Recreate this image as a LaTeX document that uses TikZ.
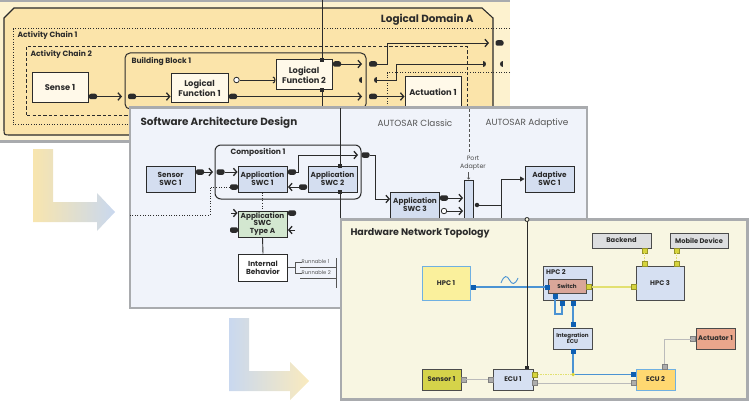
\documentclass[tikz,border=0pt]{standalone}
\usepackage{fontspec}
\setmainfont{Poppins}
\usetikzlibrary{arrows.meta}
\definecolor{ink}{HTML}{2B2B2B}
\definecolor{pgray}{HTML}{A9ABAE}
\definecolor{p1out}{HTML}{FDF2CF}
\definecolor{p1in}{HTML}{FBE4AA}
\definecolor{p1box}{HTML}{FFF9E9}
\definecolor{p2bg}{HTML}{F0F3FA}
\definecolor{swc}{HTML}{D4DEF0}
\definecolor{swcgreen}{HTML}{D3E7D0}
\definecolor{p3bg}{HTML}{F8F6E2}
\definecolor{hpcyel}{HTML}{FAF09C}
\definecolor{hwblue}{HTML}{D6E0F2}
\definecolor{lblue}{HTML}{6FB0E2}
\definecolor{salmon}{HTML}{D9A699}
\definecolor{actcol}{HTML}{E9A68C}
\definecolor{ecu2col}{HTML}{FFD871}
\definecolor{sensorcol}{HTML}{D5D34A}
\definecolor{backcol}{HTML}{DDDEE0}
\definecolor{portblue}{HTML}{0E5FB2}
\definecolor{lineblue}{HTML}{4B93D3}
\definecolor{portyel}{HTML}{D6D43C}
\definecolor{lineyel}{HTML}{E2E070}
\definecolor{portgray}{HTML}{ADADAD}
\definecolor{linegray}{HTML}{BBBBBB}
\definecolor{txtgray}{HTML}{555555}
\definecolor{Lyel}{HTML}{F8E5AE}
\definecolor{Lblue}{HTML}{C9D8EF}
\newcommand\ftitle{\fontsize{10.4}{12}\selectfont\bfseries}
\newcommand\fhwtitle{\fontsize{9.5}{11}\selectfont\bfseries}
\newcommand\fchain{\fontsize{7.6}{8.5}\selectfont\bfseries}
\newcommand\fbl{\fontsize{8.3}{10}\selectfont\bfseries}
\newcommand\fsw{\fontsize{7.3}{7.9}\selectfont\bfseries}
\newcommand\fhw{\fontsize{6.7}{7.5}\selectfont\bfseries}
\newcommand\fsmallhw{\fontsize{5.6}{6.2}\selectfont\bfseries}
\newcommand\fauto{\fontsize{8.9}{10}\selectfont}
\newcommand\fpa{\fontsize{6.3}{7.5}\selectfont}
\newcommand\ftiny{\fontsize{5.2}{6}\selectfont}
\tikzset{
  rcv/.tip={Straight Barb[length=3.2pt,width=7.5pt,line width=1.3pt]},
  sock/.tip={Arc Barb[length=2.6pt,width=7pt,line width=1.1pt]},
  conn/.style={draw=ink,line width=0.9pt},
  pport/.style={fill=ink,rounded corners=2pt,minimum width=8pt,minimum height=5.5pt,inner sep=0pt,outer sep=0pt},
  sq/.style={fill=ink,minimum size=3.8pt,inner sep=0pt,outer sep=0pt},
  opencirc/.style={circle,draw=ink,fill=white,line width=0.8pt,minimum size=5.5pt,inner sep=0pt},
  lbox/.style={draw=ink,fill=p1box,line width=1pt,align=center,inner sep=0pt,font=\fbl,text=ink},
  swbox/.style={draw=ink,fill=swc,line width=1pt,align=center,inner sep=0pt,font=\fsw,text=ink,minimum width=49pt,minimum height=26pt},
  hwbox/.style={draw=ink!85,fill=hwblue,line width=0.9pt,align=center,inner sep=0pt,font=\fhw,text=ink},
  bport/.style={fill=portblue,minimum size=5pt,inner sep=0pt,outer sep=0pt},
  yport/.style={fill=portyel,draw=portyel!70!black,line width=0.4pt,minimum size=5pt,inner sep=0pt,outer sep=0pt},
  gport/.style={fill=portgray,draw=gray,line width=0.4pt,minimum size=5pt,inner sep=0pt,outer sep=0pt},
  bline/.style={draw=lineblue,line width=1.2pt},
  yline/.style={draw=lineyel,line width=1.1pt},
  gline/.style={draw=linegray,line width=1pt},
  panel/.style={line width=2.5pt,draw=pgray},
  dotline/.style={draw=ink,line width=1pt,dash pattern=on 1pt off 1.6pt},
  dashline/.style={draw=ink,line width=1pt,dash pattern=on 3.2pt off 2.2pt},
  halfl/.pic={\fill[ink] (0,-3) -- (0,3) .. controls (-4,3) and (-4,-3) .. (0,-3) -- cycle;},
  halfr/.pic={\fill[ink] (0,-3) -- (0,3) .. controls (4,3) and (4,-3) .. (0,-3) -- cycle;},
}
\begin{document}
\begin{tikzpicture}[x=1pt,y=-1pt]
\useasboundingbox (0,0) rectangle (749,401);
% ================= Panel 1: Logical Domain A =================
\fill[p1out] (-2,0) rectangle (510,142);
\draw[panel] (-2,1.2) -- (510,1.2);
\draw[panel] (-2,141.5) -- (510,141.5);
\filldraw[fill=p1in,draw=ink,line width=1.1pt] (4,18) -- (14,8) -- (482,8) -- (493,18) -- (493,129) .. controls (493,135) .. (487,135) -- (10,135) .. controls (4,135) .. (4,129) -- cycle;
\node[anchor=east,font=\ftitle,text=ink] (domlbl) at (477,19.5) {Logical Domain A};
\draw[dotline] (510,29) -- (13,29) -- (13,125) -- (510,125);
\node[anchor=west,font=\fchain,text=ink] (ac1) at (14,35) {Activity Chain 1};
\draw[dashline] (26,47) rectangle (467,116);
\node[anchor=west,font=\fchain,text=ink] (ac2) at (27,54) {Activity Chain 2};
\draw[dotline] (510,73) -- (387,73) -- (387,142);
\draw[draw=ink,line width=1pt,rounded corners=5pt] (125,53) rectangle (366,109);
\node[anchor=west,font=\fchain,text=ink] (bb1) at (128,62) {Building Block 1};
\node[lbox,minimum width=56pt,minimum height=30pt] (sense) at (60,88) {Sense 1};
\node[lbox,minimum width=57pt,minimum height=29pt] (lf1) at (199.5,88.5) {Logical\\Function 1};
\node[lbox,minimum width=56pt,minimum height=30pt] (lf2) at (304,75) {Logical\\Function 2};
\node[lbox,minimum width=56pt,minimum height=30pt] (act) at (433,92) {Actuation 1};
% ports
\node[pport] (sp) at (93,96.5) {};
\coordinate (bbin) at (122,96.5);
\draw[conn,-{rcv}] (sp) -- (bbin);
\node[pport] (bbp1) at (132,96.5) {};
\coordinate (lf1in) at (170.5,96.5);
\draw[conn,-{rcv}] (bbp1) -- (lf1in);
\node[opencirc] (lf1c) at (236.5,80) {};
\coordinate (lf2in) at (275.5,80);
\draw[conn,-{sock}] (lf1c) -- (lf2in);
\node[pport] (lf1p) at (233,96.5) {};
\coordinate (bbout3) at (362,96.5);
\draw[conn,-{rcv}] (lf1p) -- (bbout3);
\node[pport] (bbp3) at (373,96.5) {};
\coordinate (actin) at (404.5,96.5);
\draw[conn,-{rcv}] (bbp3) -- (actin);
\node[pport] (lf2p) at (337,64) {};
\coordinate (bbout1) at (362,64);
\draw[conn,-{rcv}] (lf2p) -- (bbout1);
\node[pport] (bbp2) at (373,64) {};
\coordinate (domout1) at (489,43);
\draw[conn,-{rcv}] (bbp2) -| (387,43) -- (domout1);
\node[pport] (domp1) at (499.5,43) {};
\pic at (362,80) {halfl};
\pic at (377,80) {halfl};
\coordinate (rbA) at (377,80);
\coordinate (rbB) at (483,64);
\draw[conn] (rbA) -- (396,80) |- (rbB);
\pic at (483,64) {halfr};
\pic at (503,64) {halfl};
\node[sq] (lf2t) at (322,60) {};
\node[sq] (lf2b) at (322,90) {};
\coordinate (trtop) at (322,0);
\coordinate (trmid) at (322,108);
\draw[conn] (trtop) -- (lf2t);
\draw[conn] (lf2b) -- (trmid);
% ================= L arrows =================
\shade[left color=Lyel,right color=Lblue] (33,149) -- (53,149) -- (53,202) -- (97,202) -- (97,193) -- (115,212) -- (97,231) -- (97,222) -- (33,222) -- cycle;
\shade[left color=Lblue,right color=Lyel!80!white] (229,318) -- (249,318) -- (249,371) -- (290,371) -- (290,362) -- (309,381) -- (290,400) -- (290,391) -- (229,391) -- cycle;
% ================= Panel 2: Software Architecture =================
\filldraw[fill=p2bg,panel] (130,107.5) rectangle (587,308);
\node[anchor=west,font=\ftitle,text=ink] (swtitle) at (137,123) {Software Architecture Design};
\node[font=\fauto,text=txtgray] (acl) at (415,123) {AUTOSAR Classic};
\node[font=\fauto,text=txtgray] (aad) at (527,123) {AUTOSAR Adaptive};
\coordinate (divtop) at (469,109);
\coordinate (divbot) at (469,154);
\draw[draw=txtgray,line width=0.8pt,dash pattern=on 3pt off 2pt] (divtop) -- (divbot);
\draw[draw=ink,line width=1pt,rounded corners=6pt] (215,145) rectangle (361,199);
\node[font=\fchain,text=ink] (comp) at (258,152.5) {Composition 1};
\node[swbox] (sensor) at (170.5,179) {Sensor\\SWC 1};
\node[swbox] (app1) at (262.5,179) {Application\\SWC 1};
\node[swbox] (app2) at (332.5,179) {Application\\SWC 2};
\node[swbox,fill=swcgreen] (typea) at (262.5,224) {Application\\SWC\\Type A};
\node[swbox,fill=white,minimum height=27pt] (ib) at (263,267.5) {Internal\\Behavior};
\node[swbox] (app3) at (415,205) {Application\\SWC 3};
\node[swbox] (adapt) at (549.5,179) {Adaptive\\SWC 1};
\node[draw=ink,fill=swc,line width=1pt,minimum width=9pt,minimum height=46pt,inner sep=0pt] (padapt) at (468.5,203) {};
% traceability through App SWC 2
\coordinate (tr2top) at (340,108.5);
\coordinate (tr2bot) at (340,219);
\node[sq] (sw2t) at (340,166) {};
\node[sq] (sw2b) at (340,192) {};
\draw[conn] (tr2top) -- (sw2t);
\draw[conn] (sw2b) -- (tr2bot);
% ports
\node[pport] (senp) at (200,172) {};
\coordinate (compin) at (213,172);
\draw[conn,-{rcv}] (senp) -- (compin);
\node[pport] (compp) at (220.5,172) {};
\coordinate (app1in) at (237.5,172);
\draw[conn,-{rcv}] (compp) -- (app1in);
\node[pport] (app1pl) at (234,187) {};
\coordinate (dotA) at (130,215);
\draw[dotline,line width=0.8pt] (app1pl) -| (210,215) -- (dotA);
\node[pport] (app1pr) at (292,172) {};
\coordinate (compout) at (358,155);
\draw[conn,-{rcv}] (app1pr) -| (298,155) -- (compout);
\node[pport] (comppo) at (365.5,155) {};
\coordinate (app3in) at (390,199);
\draw[conn,-{rcv}] (comppo) -| (375,199) -- (app3in);
\node[pport] (app2pl) at (303,187) {};
\coordinate (app1back) at (288,187);
\draw[conn,-{rcv}] (app2pl) -- (app1back);
\draw[dotline,line width=0.8pt] (app1.south) -- (typea.north);
\coordinate (taL1s) at (231,213);
\coordinate (taL1) at (237.5,213);
\draw[conn,-{rcv}] (taL1s) -- (taL1);
\node[pport] (taR1) at (292,213) {};
\node[pport] (taL2) at (234,230) {};
\coordinate (taR2s) at (295,230);
\coordinate (taR2) at (288,230);
\draw[conn,-{rcv}] (taR2s) -- (taR2);
\draw[conn] (typea.south) -- (ib.north);
% runnables
\coordinate (rbr) at (295,267.5);
\draw[txtgray,line width=0.6pt] (ib.east) -- (rbr);
\draw[txtgray,line width=0.6pt] (302,262) -- (295,262) -- (295,273) -- (302,273);
\node[font=\ftiny,text=txtgray,anchor=west,inner sep=0.5pt] (run1) at (301,262) {Runnable 1};
\node[font=\ftiny,text=txtgray,anchor=west,inner sep=0.5pt] (run2) at (301,273) {Runnable 2};
\draw[txtgray,line width=0.6pt] (300,267) -- (337,267);
\draw[txtgray,line width=0.6pt] (300,278) -- (337,278);
\draw[txtgray,line width=0.6pt] (336,258) -- (336,288);
% app3 -> adapter
\node[pport] (a3p) at (444,198) {};
\coordinate (padin1) at (463,198);
\draw[conn,-{rcv}] (a3p) -- (padin1);
\node[opencirc] (a3c) at (444,211) {};
\coordinate (padin2) at (463,211);
\draw[conn,-{rcv}] (a3c) -- (padin2);
\node[circle,fill=ink,minimum size=4.5pt,inner sep=0pt] (paddot) at (477,205) {};
\coordinate (vA) at (501,179);
\coordinate (vB) at (501,222);
\coordinate (vC) at (501,205);
\draw[conn] (paddot) -- (vC);
\draw[conn] (vB) -- (vA);
\draw[conn,-{Triangle[length=4.5pt,width=5pt]}] (vA) -- (adapt.west);
\node[font=\fpa,text=ink!85,align=center,inner sep=0pt] (palbl) at (473,163) {Port\\Adapter};
\coordinate (paA) at (468.5,172);
\draw[txtgray,line width=0.5pt,-{Straight Barb[length=1.5pt,width=3pt]}] (paA) -- (padapt.north);
\coordinate (hlA) at (529,218);
\coordinate (hlB) at (575,218);
\draw[conn] (hlA) -- (hlB);
% ================= Panel 3: Hardware Network Topology =================
\filldraw[fill=p3bg,panel] (341,219.5) rectangle (747.5,399.5);
\node[anchor=west,font=\fhwtitle,text=ink] (hwtitle) at (347,233) {Hardware Network Topology};
\node[hwbox,fill=hpcyel,draw=lblue,minimum width=48pt,minimum height=34pt] (hpc1) at (446,283) {HPC 1};
\node[hwbox,minimum width=49pt,minimum height=34pt] (hpc2) at (567.5,283) {};
\node[anchor=north west,font=\fhw,inner sep=0pt,text=ink] (hpc2lbl) at (546,269) {HPC 2};
\node[hwbox,fill=salmon,minimum width=38pt,minimum height=14pt,font=\fsmallhw] (switch) at (567,286) {Switch};
\node[hwbox,minimum width=48pt,minimum height=34pt] (hpc3) at (660,283) {HPC 3};
\node[hwbox,fill=backcol,minimum width=59pt,minimum height=15pt] (backend) at (621.5,240.5) {Backend};
\node[hwbox,fill=backcol,minimum width=58pt,minimum height=15pt] (mobile) at (699,240.5) {Mobile Device};
\node[hwbox,minimum width=39pt,minimum height=21pt,font=\fsmallhw] (iecu) at (572.5,338.5) {Integration\\ECU};
\node[hwbox,fill=actcol,minimum width=39pt,minimum height=21pt] (actr) at (715.5,338.5) {Actuator 1};
\node[hwbox,fill=ecu2col,draw=lblue,minimum width=39pt,minimum height=21pt] (ecu2) at (655.5,379.5) {ECU 2};
\node[hwbox,minimum width=40pt,minimum height=21pt] (ecu1) at (513,379.5) {ECU 1};
\node[hwbox,fill=sensorcol,minimum width=39pt,minimum height=21pt] (sens1) at (441.5,379.5) {Sensor 1};
% ports and links
\node[bport] (h1p) at (473.5,287) {};
\node[bport] (swl) at (547,287) {};
\draw[bline] (h1p) -- (swl);
\draw[lineblue,line width=0.9pt] (501,283) .. controls (504,275) and (507,275) .. (509.5,280) .. controls (512,285) and (515,285) .. (518,278);
\node[yport] (swr) at (589,287) {};
\node[yport] (h3l) at (633.5,287) {};
\draw[yline] (swr) -- (h3l);
\node[yport] (bkp) at (644.5,250.5) {};
\node[yport] (h3t1) at (644.5,264) {};
\draw[yline,dash pattern=on 1.2pt off 1pt] (bkp) -- (h3t1);
\node[yport] (mbp) at (676.5,250.5) {};
\node[yport] (h3t2) at (676.5,264) {};
\draw[yline,dash pattern=on 1.2pt off 1pt] (mbp) -- (h3t2);
\node[bport] (swb1) at (555,296.5) {};
\node[bport] (swb2) at (562,303.5) {};
\node[bport] (swb3) at (573,303.5) {};
\draw[bline] (swb1) |- (562,314) -- (swb2);
\node[bport] (ieT) at (573,324.5) {};
\draw[bline] (swb3) -- (ieT);
\node[bport] (ieB) at (573,351.5) {};
\node[circle,fill=portyel,minimum size=3.5pt,inner sep=0pt] (junc) at (573,374.5) {};
\node[bport] (e2b) at (633.5,374.5) {};
\draw[bline] (ieB) -- (junc) -- (e2b);
\node[yport] (e1y) at (535,374.5) {};
\draw[yline,dash pattern=on 1.5pt off 1pt] (e1y) -- (junc);
\node[circle,fill=portyel,minimum size=3.5pt,inner sep=0pt] (junc2) at (573,374.5) {};
\node[gport] (e1g) at (535,383) {};
\node[gport] (e2g) at (633.5,383) {};
\draw[gline] (e1g) -- (e2g);
\node[gport] (s1p) at (463.5,379.5) {};
\node[gport] (e1l) at (490.5,379.5) {};
\draw[gline] (s1p) -- (e1l);
\node[gport] (acp) at (693,339) {};
\node[gport] (e2t) at (664.5,366.5) {};
\draw[gline] (acp) -| (e2t);
% traceability to ECU 1
\node[sq] (e1sq) at (527,367.5) {};
\coordinate (tr3a) at (527,221);
\draw[conn] (tr3a) -- (e1sq);
\node[circle,draw=ink,fill=p3bg,line width=0.8pt,minimum size=4pt,inner sep=0pt] (tr3top) at (527,219.5) {};
\end{tikzpicture}
\end{document}
